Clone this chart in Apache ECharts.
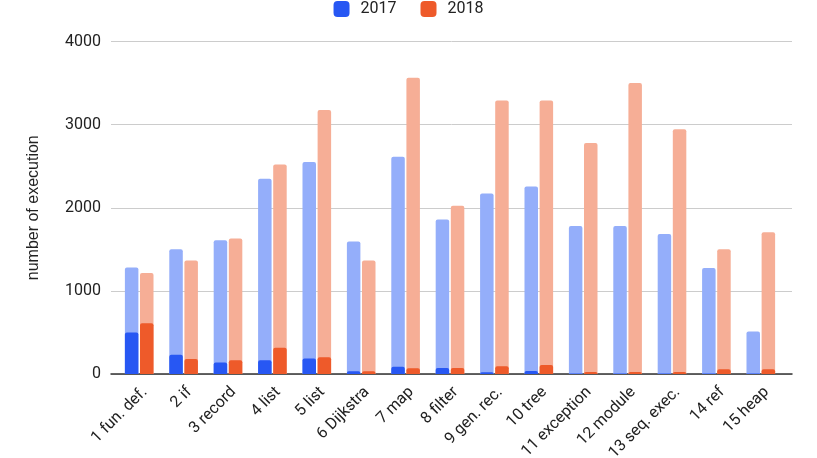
<!DOCTYPE html>
<html>
<head>
<meta charset="utf-8">
<script src="https://cdn.jsdelivr.net/npm/echarts@6/dist/echarts.min.js"></script>
<style>
  html, body { margin: 0; padding: 0; background: #fff; }
  #chart { width: 817px; height: 458px; }
</style>
</head>
<body>
<div id="chart"></div>
<script>
var categories = ['1 fun. def.', '2 if', '3 record', '4 list', '5 list', '6 Dijkstra', '7 map', '8 filter',
  '9 gen. rec.', '10 tree', '11 exception', '12 module', '13 seq. exec.', '14 ref', '15 heap'];

// light bars: all executions
var total2017 = [1280, 1500, 1610, 2350, 2550, 1595, 2615, 1860, 2170, 2255, 1780, 1780, 1685, 1275, 510];
var total2018 = [1215, 1365, 1630, 2520, 3175, 1365, 3565, 2025, 3290, 3290, 2780, 3500, 2945, 1500, 1705];

// dark bars, drawn over the light ones
var part2017 = [500, 233, 137, 165, 185, 32, 88, 72, 20, 36, 5, 5, 5, 5, 5];
var part2018 = [610, 181, 165, 317, 201, 32, 68, 72, 92, 108, 24, 24, 24, 56, 56];

var yTicks = [0, 1000, 2000, 3000, 4000];

var blue = '#2757f3', blueLight = '#94aefa';
var orange = '#ee5a2a', orangeLight = '#f6ae96';
var font = 'Roboto';

var chart = echarts.init(document.getElementById('chart'), null, { renderer: 'canvas' });

function barSeries(name, data, color, axis, z) {
  return {
    name: name,
    type: 'bar',
    xAxisIndex: axis,
    yAxisIndex: 0,
    data: data,
    barWidth: 13.5,
    barGap: '12%',
    z: z,
    itemStyle: { color: color, borderRadius: [2, 2, 0, 0] },
    emphasis: { disabled: true }
  };
}

chart.setOption({
  animation: false,
  textStyle: { fontFamily: font },
  legend: {
    data: ['2017', '2018'],
    top: 1,
    left: 'center',
    padding: 0,
    icon: 'roundRect',
    itemWidth: 16,
    itemHeight: 16,
    itemGap: 24,
    textStyle: { fontFamily: font, fontSize: 16, color: '#222', padding: [0, 0, 0, 6] }
  },
  grid: [
    { left: 117, right: 34, top: 41.5, bottom: 84, outerBoundsMode: 'none', containLabel: false },
    { left: 111, right: 25, top: 41.5, bottom: 84, outerBoundsMode: 'none', containLabel: false }
  ],
  xAxis: [
    {
      type: 'category', gridIndex: 0, data: categories,
      axisLine: { show: false }, axisTick: { show: false },
      axisLabel: {
        rotate: 45, fontFamily: font, fontSize: 16, color: '#222',
        margin: 10, interval: 0, verticalAlign: 'top'
      }
    },
    {
      type: 'value', gridIndex: 1, min: 0, max: 1,
      axisLine: { show: true, onZero: false, lineStyle: { color: '#333', width: 1.5 } },
      axisTick: { show: false }, axisLabel: { show: false }, splitLine: { show: false }
    },
    { type: 'category', gridIndex: 0, data: categories, position: 'top', show: false }
  ],
  yAxis: [
    { type: 'value', gridIndex: 0, min: 0, max: 4000, interval: 1000, show: false },
    {
      type: 'value', gridIndex: 1, min: yTicks[0], max: yTicks[yTicks.length - 1], interval: 1000,
      name: 'number of execution', nameLocation: 'middle', nameGap: 69,
      nameTextStyle: { fontFamily: 'Liberation Sans', fontSize: 16, color: '#222' },
      axisLine: { show: false }, axisTick: { show: false },
      axisLabel: {
        fontFamily: font, fontSize: 16, color: '#222', margin: 10,
        formatter: function (v) { return String(v); }
      },
      splitLine: { lineStyle: { color: '#cccccc', width: 1 } }
    }
  ],
  series: [
    barSeries('2017 total', total2017, blueLight, 0, 2),
    barSeries('2018 total', total2018, orangeLight, 0, 2),
    barSeries('2017', part2017, blue, 2, 3),
    barSeries('2018', part2018, orange, 2, 3)
  ]
});
</script>
</body>
</html>
